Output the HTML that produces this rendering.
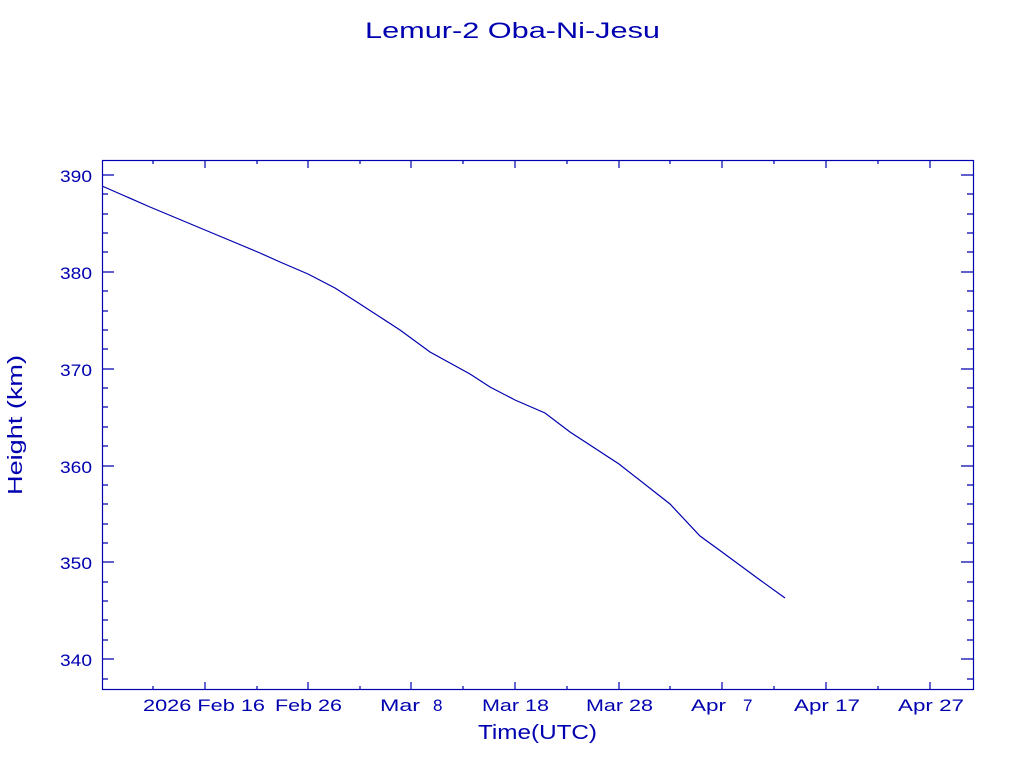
<!DOCTYPE html>
<html><head><style>body{margin:0;background:#fff}svg{display:block}</style></head><body>
<svg width="1024" height="768" xmlns="http://www.w3.org/2000/svg" font-family="Liberation Sans, sans-serif" fill="#0000b0">
<text x="365" y="38" font-size="22" textLength="295" lengthAdjust="spacingAndGlyphs">Lemur-2 Oba-Ni-Jesu</text>
<rect x="102.5" y="160.5" width="871" height="529" fill="none" stroke="#0000b0" stroke-width="1.2"/>
<g stroke="#0000b0" stroke-width="1.2">
<path d="M102 175h12M102 272h12M102 369h12M102 466h12M102 562h12M102 659h12M973 175h-12M973 272h-12M973 369h-12M973 466h-12M973 562h-12M973 659h-12"/>
<path d="M102 194h6M102 214h6M102 233h6M102 252h6M102 291h6M102 311h6M102 330h6M102 349h6M102 388h6M102 407h6M102 427h6M102 446h6M102 485h6M102 504h6M102 524h6M102 543h6M102 582h6M102 601h6M102 620h6M102 640h6M102 679h6
M973 194h-6M973 214h-6M973 233h-6M973 252h-6M973 291h-6M973 311h-6M973 330h-6M973 349h-6M973 388h-6M973 407h-6M973 427h-6M973 446h-6M973 485h-6M973 504h-6M973 524h-6M973 543h-6M973 582h-6M973 601h-6M973 620h-6M973 640h-6M973 679h-6"/>
<path d="M205 690v-8M308 690v-8M411 690v-8M515 690v-8M619 690v-8M722 690v-8M826 690v-8M930 690v-8M205 160v8M308 160v8M411 160v8M515 160v8M619 160v8M722 160v8M826 160v8M930 160v8"/>
<path d="M153 690v-4M257 690v-4M360 690v-4M463 690v-4M567 690v-4M670 690v-4M774 690v-4M878 690v-4M153 160v4M257 160v4M360 160v4M463 160v4M567 160v4M670 160v4M774 160v4M878 160v4"/>
</g>
<g font-size="17">
<text x="60" y="182" textLength="32" lengthAdjust="spacingAndGlyphs">390</text>
<text x="60" y="279" textLength="32" lengthAdjust="spacingAndGlyphs">380</text>
<text x="60" y="376" textLength="32" lengthAdjust="spacingAndGlyphs">370</text>
<text x="60" y="473" textLength="32" lengthAdjust="spacingAndGlyphs">360</text>
<text x="60" y="569" textLength="32" lengthAdjust="spacingAndGlyphs">350</text>
<text x="60" y="666" textLength="32" lengthAdjust="spacingAndGlyphs">340</text>
</g>
<g font-size="17">
<text x="143" y="711" textLength="122" lengthAdjust="spacingAndGlyphs">2026 Feb 16</text>
<text x="275" y="711" textLength="67" lengthAdjust="spacingAndGlyphs">Feb 26</text>
<text x="380" y="711" textLength="40" lengthAdjust="spacingAndGlyphs">Mar</text>
<text x="433" y="711">8</text>
<text x="482" y="711" textLength="67" lengthAdjust="spacingAndGlyphs">Mar 18</text>
<text x="586" y="711" textLength="67" lengthAdjust="spacingAndGlyphs">Mar 28</text>
<text x="691" y="711" textLength="35" lengthAdjust="spacingAndGlyphs">Apr</text>
<text x="743" y="711">7</text>
<text x="794" y="711" textLength="66" lengthAdjust="spacingAndGlyphs">Apr 17</text>
<text x="898" y="711" textLength="66" lengthAdjust="spacingAndGlyphs">Apr 27</text>
</g>
<text x="478" y="739" font-size="20" textLength="119" lengthAdjust="spacingAndGlyphs">Time(UTC)</text>
<text transform="translate(22 495) rotate(-90)" font-size="20" textLength="140" lengthAdjust="spacingAndGlyphs">Height (km)</text>
<polyline fill="none" stroke="#0000b0" stroke-width="1.2" points="102,186 150,207 205,230 260,253 280,262 308,274 335,288 360,304 400,330 430,352 470,374 490,387 515,400 545,413 570,432 619,464 670,504 700,536 722,552 760,580 785,598"/>
</svg>
</body></html>
